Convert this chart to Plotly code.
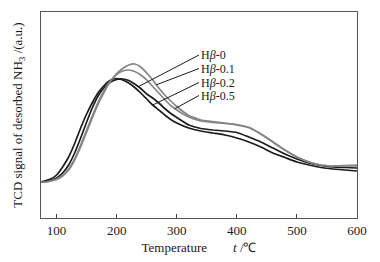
import numpy as np
import plotly.graph_objects as go

temps = [74, 80, 90, 100, 110, 120, 130, 140, 150, 160, 170, 180, 190, 200, 210, 220, 230,
         240, 250, 260, 270, 280, 290, 300, 320, 340, 360, 380, 400, 420, 440, 460, 480,
         500, 520, 540, 560, 580, 600]

# TCD signal (a.u.)
h_0 = [36, 36.5, 37.5, 40, 45, 53, 65, 80, 96, 111, 123, 131, 136, 138.5, 139, 137.5, 134,
       129.5, 124, 120, 115, 109.5, 104.5, 100.5, 93, 89.5, 88, 87, 85.5, 81, 76, 70, 64,
       59, 55, 52.5, 51, 50.5, 50]
h_01 = [36, 36, 37, 38.5, 42, 48, 58, 71, 86, 101, 115, 127, 137, 144.5, 149.5, 153, 154,
        151, 145, 138, 130, 123, 117, 111.5, 102.5, 98, 96.5, 95, 93, 90.5, 84, 76, 68,
        61, 56, 53, 52, 52.5, 53]
h_02 = [36, 37, 39, 43, 51, 61, 74.5, 90, 104, 116, 126, 133, 138, 139.5, 138, 135, 130.5,
        125, 119, 113, 108, 103, 98.5, 95, 90, 87, 85, 83, 80, 76, 71, 65, 60.5,
        56, 53, 50.5, 49, 48, 47]
h_05 = [36, 36, 37, 39, 42.5, 49, 59, 73, 88, 103, 117, 128.5, 137.5, 143.5, 147, 148, 146.5,
        143, 138, 131.5, 125, 118.5, 112.5, 108, 101, 97, 95.5, 94.5, 93.5, 90.5, 84, 76, 68,
        61, 56, 53, 52, 52, 52]

series_names = ["Hβ-0", "Hβ-0.1", "Hβ-0.2", "Hβ-0.5"]
series_values = [h_0, h_01, h_02, h_05]
series_colors = ["#1c1c1c", "#858585", "#1c1c1c", "#858585"]

# temperature where each label's leader line touches its curve
leader_temps = [236, 266, 260, 297]
label_y = [163, 149.5, 135.5, 122.5]
label_x = 337
x_ticks = [100, 200, 300, 400, 500, 600]

fig = go.Figure()
for name, vals, col in zip(series_names, series_values, series_colors):
    fig.add_trace(go.Scatter(x=temps, y=vals, mode="lines", name=name,
                             line=dict(color=col, width=1.7, shape="spline", smoothing=0.4)))

for name, vals, t, ly in zip(series_names, series_values, leader_temps, label_y):
    cy = float(np.interp(t, temps, vals))
    fig.add_shape(type="line", x0=label_x, y0=ly, x1=t, y1=cy,
                  line=dict(color="#1a1a1a", width=1), layer="above")
    fig.add_annotation(x=label_x, y=ly, xanchor="left", yanchor="middle", showarrow=False,
                       text="H<i>β</i>" + name[2:],
                       font=dict(family="Liberation Serif", size=12, color="#1a1a1a"))

# page body has an 8px default margin: figure is sized/offset to compensate
fig.update_layout(
    width=372, height=254,
    margin=dict(l=33, r=23, t=4, b=44, autoexpand=False),
    paper_bgcolor="white", plot_bgcolor="white",
    showlegend=False,
    font=dict(family="Liberation Serif", size=13, color="#1a1a1a"),
)
fig.update_xaxes(range=[74, 600], tickvals=x_ticks, ticks="inside", ticklen=4,
                 tickcolor="#444", showline=True, linecolor="#555", linewidth=1,
                 mirror=True, showgrid=False, zeroline=False, automargin=False,
                 tickfont=dict(size=13),
                 title=dict(text="Temperature\u2003\u2003<i>t</i> /℃",
                            font=dict(size=13), standoff=6))
fig.update_yaxes(range=[0, 206], showticklabels=False, ticks="", showline=True,
                 linecolor="#555", linewidth=1, mirror=True, showgrid=False, zeroline=False,
                 automargin=False,
                 title=dict(text="TCD signal of desorbed NH<sub>3</sub> /(a.u.)",
                            font=dict(size=13), standoff=14))

fig.write_html("out.html")
